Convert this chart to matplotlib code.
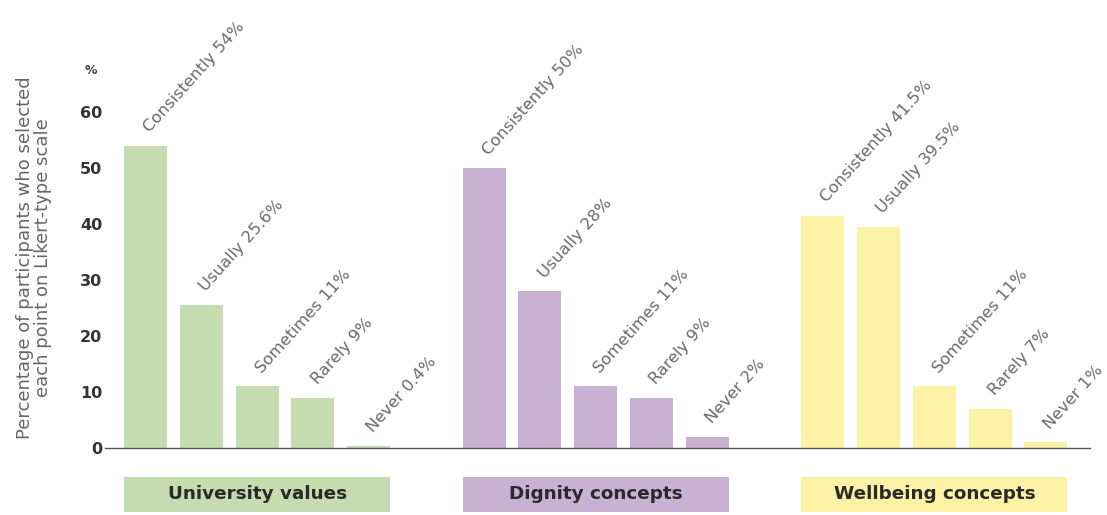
import matplotlib
matplotlib.use("Agg")
import matplotlib.pyplot as plt
from matplotlib.patches import Rectangle

plt.rcParams['font.family'] = ['DejaVu Sans']

groups = ["University values", "Dignity concepts", "Wellbeing concepts"]
levels = ["Consistently", "Usually", "Sometimes", "Rarely", "Never"]
university = [54, 25.6, 11, 9, 0.4]
dignity = [50, 28, 11, 9, 2]
wellbeing = [41.5, 39.5, 11, 7, 1]
series = [university, dignity, wellbeing]
colors = ["#c5dcb0", "#c9b1d3", "#fcf2a6"]
yticks = [0, 10, 20, 30, 40, 50, 60]

W, H = 1107, 515
fig = plt.figure(figsize=(W / 100, H / 100), dpi=100)
ax = fig.add_axes([105 / W, (H - 448) / H, 985 / W, 364 / H])

group_offset = 6.07
bar_w = 0.77
for gi, (vals, col, gname) in enumerate(zip(series, colors, groups)):
    xs = [gi * group_offset + i for i in range(len(vals))]
    ax.bar(xs, vals, width=bar_w, color=col, edgecolor='none', zorder=2)
    for x, v, lev in zip(xs, vals, levels):
        ax.text(x + 0.08, v + 2.2, f"{lev} {v:g}%", rotation=48,
                rotation_mode='anchor', ha='left', va='baseline',
                fontsize=11.8, color='#6a6a6a', clip_on=False)
    x0 = xs[0] - bar_w / 2
    x1 = xs[-1] + bar_w / 2
    ax.add_patch(Rectangle((x0, -11.4), x1 - x0, 6.2, facecolor=col,
                           edgecolor='none', clip_on=False))
    ax.text((x0 + x1) / 2, -8.3, gname, ha='center', va='center',
            fontsize=13.2, fontweight='bold', color='#2a2a2a', clip_on=False)

ax.set_xlim(-0.726, 16.93)
ax.set_ylim(0, 65)
ax.set_yticks(yticks)
ax.set_yticklabels([str(t) for t in yticks], fontweight='bold', fontsize=11.5,
                   color='#333333')
ax.tick_params(axis='y', length=0, pad=2)
ax.tick_params(axis='x', length=0, labelbottom=False)
for s in ['top', 'right', 'left']:
    ax.spines[s].set_visible(False)
ax.spines['bottom'].set_color('#555555')
ax.spines['bottom'].set_linewidth(1.0)

fig.text(91 / W, (H - 70) / H, "%", ha='center', va='center', fontsize=9,
         fontweight='bold', color='#444444')
fig.text(34 / W, (H - 258) / H,
         "Percentage of participants who selected\neach point on Likert-type scale",
         rotation=90, ha='center', va='center', fontsize=13, color='#666666',
         linespacing=1.05)

fig.savefig("out.png", dpi=100)
